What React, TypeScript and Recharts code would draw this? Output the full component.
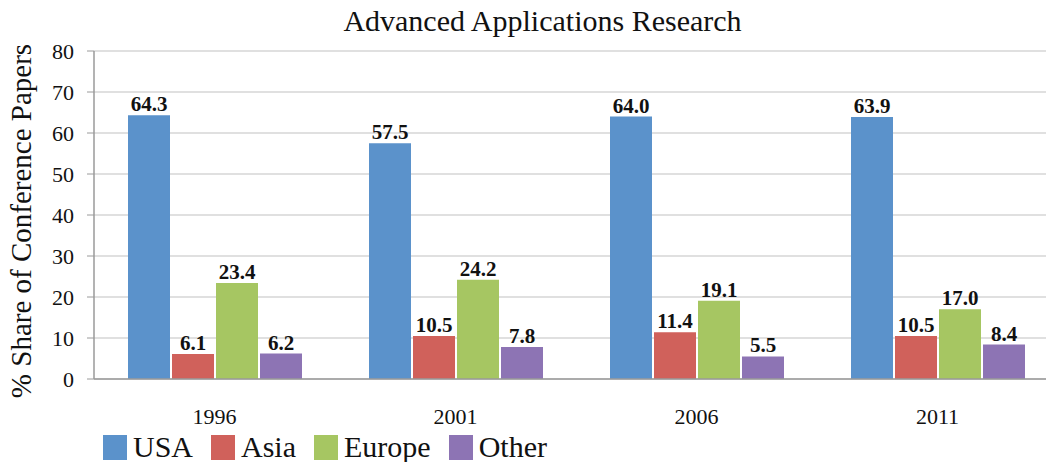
import React from "react";
import { BarChart, Bar, XAxis, YAxis, CartesianGrid, Legend, LabelList } from "recharts";

const years = ["1996", "2001", "2006", "2011"];
const usa = [64.3, 57.5, 64.0, 63.9];
const asia = [6.1, 10.5, 11.4, 10.5];
const europe = [23.4, 24.2, 19.1, 17.0];
const other = [6.2, 7.8, 5.5, 8.4];
const yTicks = [0, 10, 20, 30, 40, 50, 60, 70, 80];
const edgeTicks = [0, 1, 2, 3, 4];

const series = [
  { key: "USA", color: "#5b92cb" },
  { key: "Asia", color: "#d0615b" },
  { key: "Europe", color: "#a6c662" },
  { key: "Other", color: "#8d74b4" },
];

const data = years.map((year, i) => ({
  year,
  USA: usa[i],
  Asia: asia[i],
  Europe: europe[i],
  Other: other[i],
}));

const FONT = '"Liberation Serif", "Times New Roman", serif';

function YTitle(props: any) {
  const vb = props.viewBox || { x: 0, y: 0, height: 0 };
  const x = vb.x + 31;
  const y = vb.y + vb.height / 2 + 6;
  return (
    <text
      x={x}
      y={y}
      transform={`rotate(-90, ${x}, ${y})`}
      textAnchor="middle"
      fontFamily={FONT}
      fontSize={29}
      fill="#111"
    >
      % Share of Conference Papers
    </text>
  );
}

function LegendBox() {
  return (
    <div style={{ display: "flex", alignItems: "center", gap: 18, fontFamily: FONT, fontSize: 30, color: "#111" }}>
      {series.map((s) => (
        <div key={s.key} style={{ display: "flex", alignItems: "center", gap: 6 }}>
          <span style={{ display: "inline-block", width: 24, height: 25, background: s.color }} />
          <span style={{ lineHeight: "30px" }}>{s.key}</span>
        </div>
      ))}
    </div>
  );
}

export default function App() {
  return (
    <div style={{ position: "absolute", left: 0, top: 0, width: 1046, height: 462, overflow: "hidden", background: "#fff" }}>
      <div
        style={{
          position: "absolute",
          left: 0,
          top: 3,
          width: 1085,
          textAlign: "center",
          fontFamily: FONT,
          fontSize: 30,
          color: "#111",
          lineHeight: "36px",
        }}
      >
        Advanced Applications Research
      </div>
      <BarChart
        width={1070}
        height={462}
        data={data}
        margin={{ top: 51, right: 12, bottom: 13, left: 0 }}
        barSize={42}
        barGap={2}
      >
        <CartesianGrid xAxisId="cat" vertical={false} stroke="#d6d6d6" strokeWidth={1.5} />
        <XAxis
          xAxisId="edges"
          type="number"
          domain={[0, 4]}
          ticks={edgeTicks}
          tick={false}
          axisLine={false}
          tickLine={{ stroke: "#9a9a9a" }}
          tickSize={7}
          height={0}
        />
        <XAxis
          xAxisId="cat"
          dataKey="year"
          axisLine={{ stroke: "#9a9a9a", strokeWidth: 1.5 }}
          tickLine={false}
          tickSize={0}
          tickMargin={29}
          height={40}
          tick={{ fontFamily: FONT, fontSize: 22, fill: "#111" }}
        />
        <YAxis
          domain={[0, 80]}
          ticks={yTicks}
          width={94}
          axisLine={{ stroke: "#9a9a9a", strokeWidth: 1.5 }}
          tickLine={{ stroke: "#9a9a9a" }}
          tickSize={7}
          tickMargin={13}
          tick={{ fontFamily: FONT, fontSize: 22, fill: "#111" }}
          label={<YTitle />}
        />
        <Legend
          verticalAlign="bottom"
          align="left"
          height={30}
          wrapperStyle={{ left: 103, top: 432 }}
          content={() => <LegendBox />}
        />
        {series.map((s) => (
          <Bar key={s.key} xAxisId="cat" dataKey={s.key} fill={s.color} isAnimationActive={false}>
            <LabelList
              dataKey={s.key}
              position="top"
              offset={4}
              formatter={(v: any) => Number(v).toFixed(1)}
              style={{ fontFamily: FONT, fontSize: 21, fontWeight: 700, fill: "#111" }}
            />
          </Bar>
        ))}
      </BarChart>
    </div>
  );
}
